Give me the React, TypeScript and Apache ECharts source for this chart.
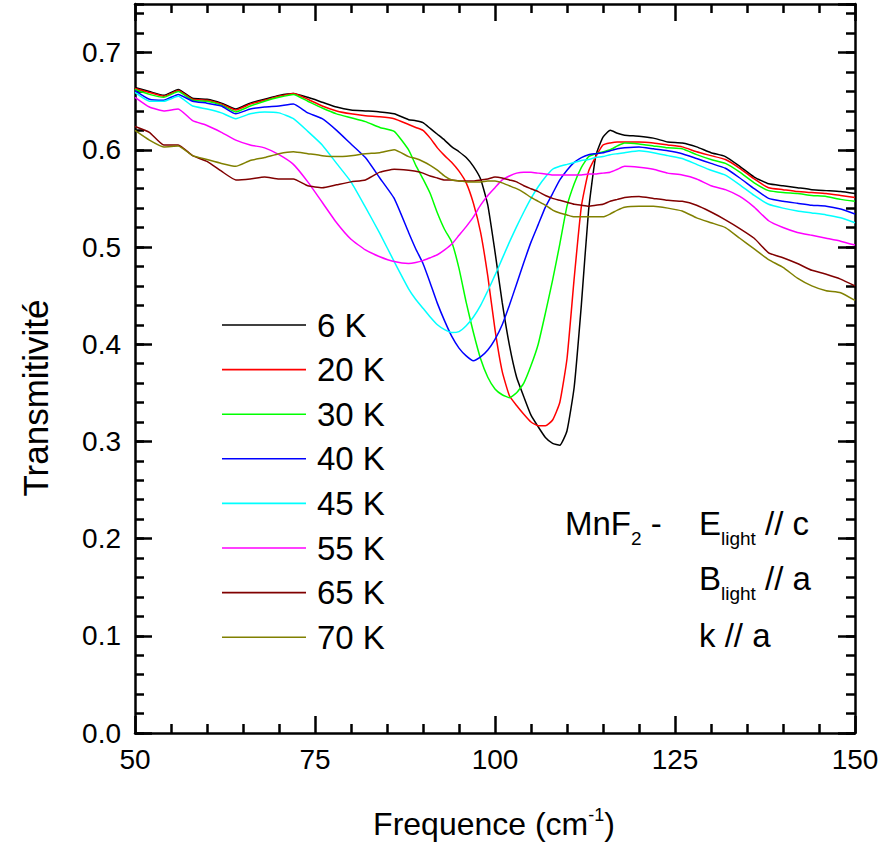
import React, { useEffect, useRef } from "react";
import * as echarts from "echarts";

const FONT = '"Liberation Sans", Arial, Helvetica, sans-serif';

// Frequency (cm^-1): 2-unit steps outside the absorption region, 1-unit steps inside it
const freq = [
  50, 52, 54, 56, 58, 60, 62, 64, 66, 68, 70, 72, 74, 76, 78, 80, 82, 84, 86,
  88, 89, 90, 91, 92, 93, 94, 95, 96, 97, 98, 99, 100, 101, 102, 103, 104, 105, 106,
  107, 108, 109, 110, 111, 112, 113, 114, 115, 116, 117, 118,
  120, 122, 124, 126, 128, 130, 132, 134, 136, 138, 140, 142, 144, 146, 148, 150,
];

const t6K = [
  0.664, 0.660, 0.656, 0.662, 0.653, 0.652, 0.648, 0.642, 0.648, 0.652, 0.656, 0.658, 0.654, 0.649, 0.644, 0.641, 0.640, 0.639, 0.637,
  0.631, 0.630, 0.628, 0.622, 0.616, 0.610, 0.603, 0.598, 0.592, 0.583, 0.570, 0.543, 0.495, 0.443, 0.399, 0.366, 0.346, 0.327, 0.315,
  0.304, 0.298, 0.296, 0.311, 0.356, 0.441, 0.538, 0.594, 0.613, 0.620, 0.617, 0.615,
  0.614, 0.612, 0.608, 0.607, 0.603, 0.597, 0.593, 0.583, 0.572, 0.565, 0.563, 0.561, 0.559, 0.558, 0.557, 0.555,
];
const t20K = [
  0.663, 0.659, 0.655, 0.661, 0.652, 0.651, 0.647, 0.641, 0.647, 0.651, 0.655, 0.658, 0.652, 0.645, 0.640, 0.637, 0.635, 0.634, 0.632,
  0.626, 0.623, 0.620, 0.612, 0.602, 0.594, 0.587, 0.578, 0.566, 0.545, 0.515, 0.470, 0.415, 0.372, 0.347, 0.337, 0.328, 0.320, 0.316,
  0.316, 0.322, 0.340, 0.385, 0.468, 0.542, 0.578, 0.593, 0.605, 0.607, 0.608, 0.608,
  0.608, 0.607, 0.605, 0.603, 0.598, 0.594, 0.590, 0.581, 0.570, 0.561, 0.559, 0.557, 0.556, 0.555, 0.553, 0.551,
];
const t30K = [
  0.662, 0.657, 0.654, 0.660, 0.651, 0.650, 0.646, 0.639, 0.645, 0.650, 0.654, 0.657, 0.650, 0.643, 0.637, 0.633, 0.629, 0.623, 0.619,
  0.600, 0.584, 0.570, 0.555, 0.535, 0.518, 0.505, 0.478, 0.443, 0.412, 0.385, 0.366, 0.354, 0.348, 0.345, 0.350, 0.360, 0.378, 0.400,
  0.432, 0.466, 0.503, 0.542, 0.565, 0.582, 0.593, 0.596, 0.598, 0.600, 0.604, 0.607,
  0.606, 0.604, 0.602, 0.601, 0.595, 0.590, 0.586, 0.577, 0.566, 0.558, 0.556, 0.555, 0.553, 0.552, 0.549, 0.547,
];
const t40K = [
  0.661, 0.652, 0.651, 0.657, 0.650, 0.648, 0.645, 0.637, 0.642, 0.644, 0.645, 0.647, 0.638, 0.632, 0.620, 0.606, 0.592, 0.571, 0.550,
  0.515, 0.498, 0.483, 0.463, 0.442, 0.424, 0.408, 0.396, 0.388, 0.383, 0.387, 0.394, 0.405, 0.420, 0.440, 0.462, 0.484, 0.505, 0.523,
  0.541, 0.555, 0.569, 0.579, 0.587, 0.592, 0.595, 0.596, 0.597, 0.599, 0.601, 0.602,
  0.603, 0.601, 0.599, 0.596, 0.591, 0.586, 0.581, 0.571, 0.560, 0.550, 0.547, 0.545, 0.543, 0.542, 0.539, 0.534,
];
const t45K = [
  0.659, 0.650, 0.650, 0.655, 0.645, 0.642, 0.638, 0.632, 0.637, 0.639, 0.638, 0.632, 0.619, 0.605, 0.586, 0.567, 0.541, 0.514, 0.485,
  0.457, 0.446, 0.437, 0.428, 0.420, 0.415, 0.412, 0.413, 0.419, 0.428, 0.440, 0.455, 0.471, 0.488, 0.505, 0.521, 0.536, 0.550, 0.562,
  0.572, 0.580, 0.583, 0.585, 0.587, 0.589, 0.590, 0.592, 0.593, 0.595, 0.596, 0.597,
  0.599, 0.597, 0.594, 0.591, 0.585, 0.579, 0.574, 0.564, 0.553, 0.544, 0.540, 0.537, 0.535, 0.533, 0.530, 0.525,
];
const t55K = [
  0.654, 0.644, 0.640, 0.642, 0.630, 0.625, 0.618, 0.610, 0.605, 0.602, 0.595, 0.585, 0.567, 0.546, 0.525, 0.508, 0.497, 0.490, 0.485,
  0.483, 0.484, 0.486, 0.489, 0.492, 0.497, 0.503, 0.512, 0.521, 0.531, 0.543, 0.553, 0.561, 0.569, 0.573, 0.576, 0.577, 0.577, 0.576,
  0.575, 0.574, 0.574, 0.574, 0.574, 0.574, 0.575, 0.575, 0.576, 0.577, 0.580, 0.583,
  0.582, 0.580, 0.576, 0.574, 0.570, 0.563, 0.559, 0.552, 0.541, 0.527, 0.520, 0.515, 0.512, 0.509, 0.506, 0.502,
];
const t65K = [
  0.624, 0.618, 0.605, 0.605, 0.594, 0.588, 0.578, 0.569, 0.570, 0.572, 0.570, 0.570, 0.563, 0.561, 0.564, 0.567, 0.569, 0.577, 0.580,
  0.579, 0.578, 0.576, 0.573, 0.571, 0.569, 0.569, 0.568, 0.568, 0.568, 0.569, 0.570, 0.572, 0.571, 0.569, 0.567, 0.563, 0.560, 0.557,
  0.553, 0.550, 0.548, 0.546, 0.544, 0.543, 0.542, 0.543, 0.544, 0.547, 0.549, 0.551,
  0.552, 0.550, 0.548, 0.547, 0.543, 0.536, 0.528, 0.519, 0.509, 0.494, 0.489, 0.483, 0.476, 0.472, 0.467, 0.460,
];
const t70K = [
  0.620, 0.610, 0.603, 0.604, 0.594, 0.590, 0.586, 0.583, 0.589, 0.592, 0.596, 0.598, 0.596, 0.594, 0.593, 0.594, 0.596, 0.597, 0.600,
  0.593, 0.591, 0.588, 0.584, 0.579, 0.573, 0.569, 0.568, 0.567, 0.567, 0.567, 0.568, 0.568, 0.566, 0.563, 0.560, 0.556, 0.551, 0.547,
  0.543, 0.538, 0.535, 0.533, 0.531, 0.531, 0.531, 0.531, 0.531, 0.534, 0.538, 0.541,
  0.542, 0.542, 0.540, 0.537, 0.530, 0.525, 0.520, 0.509, 0.498, 0.487, 0.479, 0.468, 0.460, 0.455, 0.453, 0.445,
];

const seriesNames = ["6 K", "20 K", "30 K", "40 K", "45 K", "55 K", "65 K", "70 K"];
const seriesValues = [t6K, t20K, t30K, t40K, t45K, t55K, t65K, t70K];
const seriesColors = [
  "#000000", "#ff0000", "#00ff00", "#0000ff", "#00ffff", "#ff00ff", "#800000", "#808000",
];

const xTitle = "Frequence (cm";
const xTitleSup = "-1";
const yTitle = "Transmitivité";

function xAxisDef(position: string, showLabel: boolean) {
  return {
    type: "value",
    position,
    min: 50,
    max: 150,
    interval: 25,
    axisLine: { show: true, onZero: false, lineStyle: { color: "#000", width: 2.5 } },
    axisTick: { show: true, inside: true, length: 17, lineStyle: { color: "#000", width: 2.5 } },
    minorTick: { show: true, splitNumber: 5, length: 9, lineStyle: { color: "#000", width: 2.5 } },
    axisLabel: { show: showLabel, fontSize: 28, color: "#000", fontFamily: FONT, margin: 12 },
    splitLine: { show: false },
    minorSplitLine: { show: false },
  };
}

function yAxisDef(position: string, interval: number, tickLen: number, showLine: boolean, showLabel: boolean) {
  return {
    type: "value",
    position,
    min: 0,
    max: 0.75,
    interval,
    axisLine: { show: showLine, onZero: false, lineStyle: { color: "#000", width: 2.5 } },
    axisTick: { show: true, inside: true, length: tickLen, lineStyle: { color: "#000", width: 2.5 } },
    axisLabel: {
      show: showLabel,
      fontSize: 28,
      color: "#000",
      fontFamily: FONT,
      margin: 14,
      showMaxLabel: false,
      formatter: (v: number) => v.toFixed(1),
    },
    splitLine: { show: false },
  };
}

export default function App() {
  const ref = useRef<HTMLDivElement>(null);

  useEffect(() => {
    if (!ref.current) return;
    const chart = echarts.init(ref.current, null, { renderer: "svg" });

    const mainRich = { fontSize: 33, fontFamily: FONT, lineHeight: 49, fill: "#000" };
    const subRich = { fontSize: 19, fontFamily: FONT, verticalAlign: "bottom", fill: "#000" };

    const option: any = {
      animation: false,
      backgroundColor: "#fff",
      grid: { left: 135, top: 4, width: 720, height: 729, containLabel: false },
      xAxis: [xAxisDef("bottom", true), xAxisDef("top", false)],
      yAxis: [
        yAxisDef("left", 0.1, 17, true, true),
        yAxisDef("left", 0.02, 9, false, false),
        yAxisDef("right", 0.1, 17, true, false),
        yAxisDef("right", 0.02, 9, false, false),
      ],
      legend: {
        orient: "vertical",
        left: 222,
        top: 307,
        padding: 0,
        icon: "rect",
        itemWidth: 84,
        itemHeight: 1.6,
        itemGap: 8.6,
        data: seriesNames,
        textStyle: { fontSize: 33, color: "#000", fontFamily: FONT, lineHeight: 36, padding: [0, 0, 0, 6] },
      },
      series: seriesNames.map((name, i) => ({
        name,
        type: "line",
        xAxisIndex: 0,
        yAxisIndex: 0,
        symbol: "none",
        showSymbol: false,
        smooth: 0.15,
        data: freq.map((f, j) => [f, seriesValues[i][j]]),
        lineStyle: { color: seriesColors[i], width: 1.5 },
        itemStyle: { color: seriesColors[i] },
      })),
      graphic: [
        {
          type: "text",
          x: 494,
          y: 806,
          style: {
            text: `{m|${xTitle}}{p|${xTitleSup}}{m|)}`,
            textAlign: "center",
            textVerticalAlign: "top",
            rich: {
              m: { fontSize: 32, fontFamily: FONT, lineHeight: 36, fill: "#000" },
              p: { fontSize: 18, fontFamily: FONT, verticalAlign: "top", fill: "#000" },
            },
          },
        },
        {
          type: "text",
          x: 35,
          y: 398,
          rotation: Math.PI / 2,
          style: {
            text: yTitle,
            fontSize: 35,
            fontFamily: FONT,
            fill: "#000",
            textAlign: "center",
            textVerticalAlign: "middle",
          },
        },
        {
          type: "text",
          x: 565,
          y: 499,
          style: {
            text: "{m|MnF}{s|2}{m| -}",
            textAlign: "left",
            textVerticalAlign: "top",
            rich: { m: mainRich, s: subRich },
          },
        },
        {
          type: "text",
          x: 699,
          y: 499,
          style: {
            text: "{m|E}{s|light}{m| // c}",
            textAlign: "left",
            textVerticalAlign: "top",
            rich: { m: mainRich, s: subRich },
          },
        },
        {
          type: "text",
          x: 699,
          y: 554,
          style: {
            text: "{m|B}{s|light}{m| // a}",
            textAlign: "left",
            textVerticalAlign: "top",
            rich: { m: mainRich, s: subRich },
          },
        },
        {
          type: "text",
          x: 699,
          y: 611,
          style: {
            text: "{m|k // a}",
            textAlign: "left",
            textVerticalAlign: "top",
            rich: { m: mainRich, s: subRich },
          },
        },
      ],
    };

    chart.setOption(option);
    return () => {
      chart.dispose();
    };
  }, []);

  return (
    <div
      ref={ref}
      style={{ position: "absolute", left: 0, top: 0, width: 896, height: 849, background: "#fff" }}
    />
  );
}
